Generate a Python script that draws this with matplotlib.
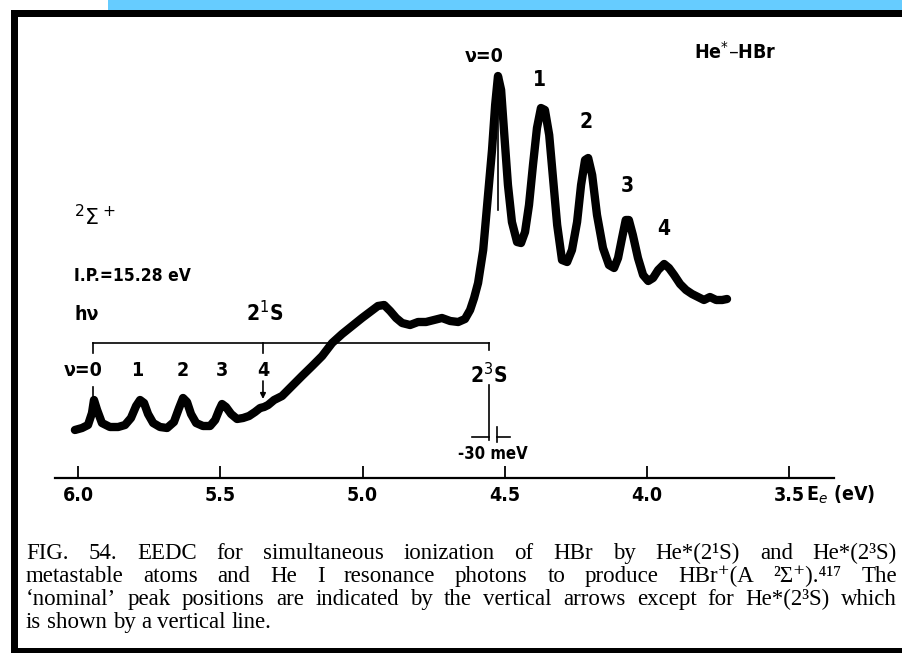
import matplotlib
matplotlib.use("Agg")
import matplotlib.pyplot as plt
from matplotlib.patches import Rectangle

energy = [6.011, 5.986, 5.965, 5.951, 5.944, 5.933, 5.916, 5.888, 5.859, 5.835,
          5.814, 5.796, 5.782, 5.768, 5.754, 5.736, 5.712, 5.687, 5.663, 5.645,
          5.631, 5.617, 5.603, 5.585, 5.561, 5.536, 5.518, 5.504, 5.494, 5.480,
          5.462, 5.441, 5.420, 5.399, 5.378, 5.360, 5.346, 5.332, 5.311, 5.283,
          5.248, 5.213, 5.177, 5.142, 5.107, 5.072, 5.037, 5.002, 4.974, 4.946,
          4.924, 4.903, 4.882, 4.861, 4.833, 4.805, 4.777, 4.749, 4.721, 4.692,
          4.664, 4.640, 4.622, 4.608, 4.594, 4.576, 4.559, 4.545, 4.534, 4.524,
          4.513, 4.503, 4.489, 4.475, 4.457, 4.443, 4.429, 4.415, 4.401, 4.387,
          4.373, 4.359, 4.344, 4.330, 4.316, 4.299, 4.281, 4.264, 4.246, 4.232,
          4.218, 4.207, 4.193, 4.176, 4.155, 4.134, 4.116, 4.102, 4.088, 4.075,
          4.064, 4.050, 4.032, 4.014, 3.996, 3.979, 3.961, 3.940, 3.923, 3.905,
          3.884, 3.863, 3.842, 3.821, 3.800, 3.779, 3.757, 3.736, 3.719]
counts = [48, 50, 53, 65, 78, 68, 55, 51, 51, 53,
          60, 72, 78, 75, 64, 55, 51, 50, 56, 70,
          80, 76, 64, 55, 52, 52, 58, 68, 74, 71,
          64, 59, 60, 62, 66, 70, 71, 73, 78, 82,
          92, 102, 112, 122, 135, 144, 152, 160, 166, 172,
          173, 167, 160, 155, 153, 156, 156, 158, 160, 157,
          156, 159, 168, 180, 195, 228, 283, 328, 373, 402,
          388, 348, 293, 256, 236, 235, 246, 273, 313, 350,
          370, 368, 343, 298, 253, 218, 216, 228, 256, 293,
          318, 320, 303, 263, 230, 213, 210, 220, 240, 258,
          258, 243, 220, 203, 197, 200, 208, 214, 210, 203,
          194, 188, 184, 181, 178, 181, 178, 178, 179]

tick_values = [6.0, 5.5, 5.0, 4.5, 4.0, 3.5]
tick_labels = ["6.0", "5.5", "5.0", "4.5", "4.0", "3.5"]

# nominal peak positions (eV) and labels
hv_pos = [5.947, 5.793, 5.631, 5.494, 5.350]
hv_lab = ["ν=0", "1", "2", "3", "4"]
he3_pos = [4.506, 4.380, 4.214, 4.070, 3.940]
he3_lab = ["ν=0", "1", "2", "3", "4"]
he3_lab_y = [422, 398, 356, 292, 249]
e_he3_line = 4.524
e_21s = 5.350
e_23s = 4.555
e_bracket_left = 5.947

caption = [
    ["FIG.", "54.", "EEDC", "for", "simultaneous", "ionization", "of", "HBr", "by",
     "He*(2\u00b9S)", "and", "He*(2\u00b3S)"],
    ["metastable", "atoms", "and", "He", "I", "resonance", "photons", "to", "produce",
     "HBr\u207a(A", "\u00b2\u03a3\u207a).\u2074\u00b9\u2077", "The"],
    ["\u2018nominal\u2019", "peak", "positions", "are", "indicated", "by", "the", "vertical",
     "arrows", "except", "for", "He*(2\u00b3S)", "which"],
    ["is", "shown", "by", "a", "vertical", "line."],
]

SANS = ["DejaVu Sans"]
SERIF = ["Liberation Serif", "DejaVu Serif"]
W, H = 902, 653

fig = plt.figure(figsize=(W / 100, H / 100), dpi=100)
fig.patch.set_facecolor("white")

def rect(x, y, w, h, color):
    fig.add_artist(Rectangle((x / W, 1 - (y + h) / H), w / W, h / H,
                             transform=fig.transFigure, facecolor=color,
                             edgecolor="none", zorder=0))

# page decoration: blue strip and black frame
rect(108, 0, W - 108, 10, "#66CCFF")
rect(11, 10, W - 11, 7, "black")
rect(11, 10, 7, H - 10, "black")
rect(11, 648, W - 11, 5, "black")

ax = fig.add_axes([55 / W, 1 - 478 / H, (834 - 55) / W, (478 - 17) / H])
ax.set_facecolor("none")
ax.set_xlim(6.081, 3.343)
ax.set_ylim(0, 461)
for s in ["top", "left", "right"]:
    ax.spines[s].set_visible(False)
ax.spines["bottom"].set_linewidth(1.6)
ax.set_yticks([])
ax.set_xticks(tick_values)
ax.set_xticklabels(tick_labels, family=SANS, fontweight="bold", fontsize=14,
                   fontstretch="condensed")
ax.tick_params(axis="x", direction="in", length=9, width=1.3, pad=6)

ax.plot(energy, counts, color="black", lw=6, solid_joinstyle="round",
        solid_capstyle="round")

txt = dict(family=SANS, fontweight="bold", fontstretch="condensed", color="black",
           ha="center", va="center", math_fontfamily="dejavusans")
line = dict(color="black", lw=1.2)

ax.text(3.441, -17, "E$_e$ (eV)", fontsize=14, **{**txt, "ha": "left"}, clip_on=False)

# He*(2^3S) progression labels
ax.text(he3_pos[0], he3_lab_y[0], he3_lab[0], fontsize=14, **{**txt, "ha": "right"})
for e, lab, y in zip(he3_pos[1:], he3_lab[1:], he3_lab_y[1:]):
    ax.text(e, y, lab, fontsize=15, **txt)
ax.plot([e_he3_line, e_he3_line], [375, 268], **line)
ax.text(3.69, 426, "He$^{*}$\u2013HBr", fontsize=14, **txt)

# left block of labels
ax.text(6.014, 261, r"$^2\Sigma^+$", fontsize=16, **{**txt, "ha": "left"})
ax.text(6.014, 202, "I.P.=15.28 eV", fontsize=12.5, **{**txt, "ha": "left"})
ax.text(6.014, 164, "hν", fontsize=14, **{**txt, "ha": "left"})
ax.text(5.343, 165, "2$^1$S", fontsize=15, **txt)

# bracket between hv and 2^3S
ax.plot([e_bracket_left, e_23s], [135, 135], **line)
ax.plot([e_bracket_left, e_bracket_left], [135, 125], **line)
ax.plot([e_bracket_left, e_bracket_left], [91, 78], **line)
ax.text(5.915, 108, hv_lab[0], fontsize=14, **{**txt, "ha": "right"})
for e, lab in zip(hv_pos[1:], hv_lab[1:]):
    ax.text(e, 108, lab, fontsize=14, **txt)
ax.plot([e_21s, e_21s], [135, 125], **line)
ax.annotate("", xy=(e_21s, 79), xytext=(e_21s, 97),
            arrowprops=dict(arrowstyle="-|>", lw=1.2, color="black",
                            mutation_scale=8, shrinkA=0, shrinkB=0))

# 2^3S marker with the 30 meV bar
ax.plot([e_23s, e_23s], [135, 128], **line)
ax.text(e_23s, 103, "2$^3$S", fontsize=15, **txt)
ax.plot([e_23s, e_23s], [93, 38], **line)
ax.plot([e_23s + 0.060, e_23s], [41, 41], **line)
ax.plot([4.527, 4.527], [51, 36], **line)
ax.plot([4.527, 4.482], [41, 41], **line)
ax.text(4.541, 24, "-30 meV", fontsize=12, **txt)

# justified caption
renderer = fig.canvas.get_renderer()
x_left, x_right = 26, 897
line_y = [559, 582, 605, 628]
base_fs = 16.5
for i, words in enumerate(caption):
    items = [fig.text(0, 1 - line_y[i] / H, w, fontsize=base_fs, family=SERIF,
                      va="baseline", ha="left")
             for w in words]
    widths = [t.get_window_extent(renderer).width for t in items]
    space = 0.2 * base_fs * 100 / 72
    natural = sum(widths) + space * (len(words) - 1)
    if natural > x_right - x_left:
        fs = base_fs * (x_right - x_left) / natural
        for t in items:
            t.set_fontsize(fs)
        widths = [t.get_window_extent(renderer).width for t in items]
    if i < len(caption) - 1:
        gap = (x_right - x_left - sum(widths)) / (len(words) - 1)
    else:
        gap = 0.25 * base_fs * 100 / 72
    x = x_left
    for t, w in zip(items, widths):
        t.set_x(x / W)
        x += w + gap

fig.savefig("out.png", dpi=100, facecolor="white")
